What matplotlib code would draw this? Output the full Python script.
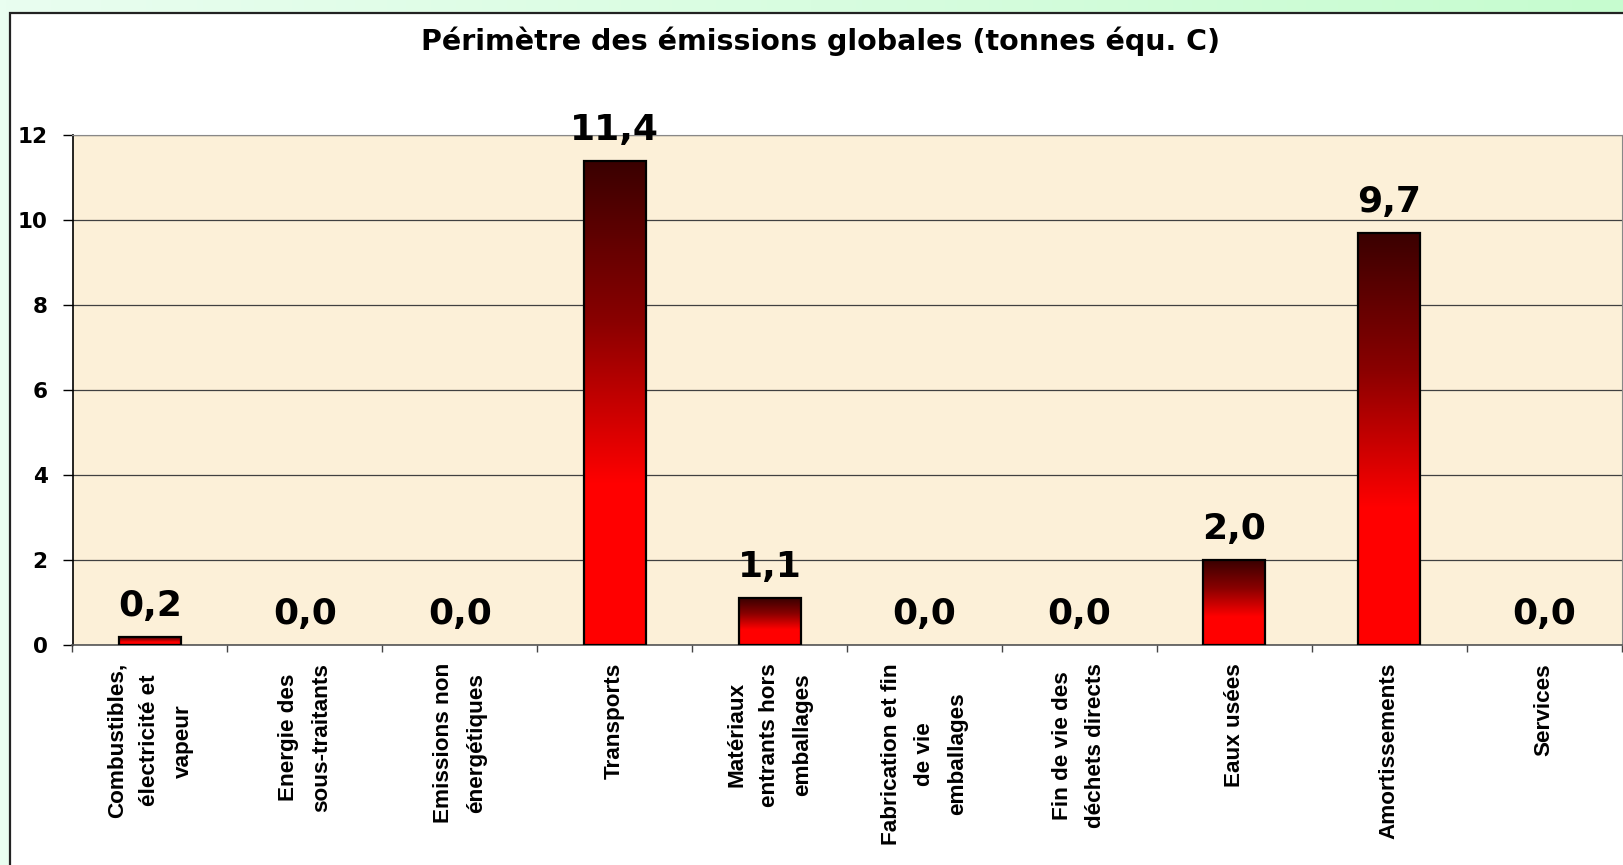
import numpy as np
import matplotlib
matplotlib.use("Agg")
import matplotlib.pyplot as plt
import matplotlib.patches as patches
from matplotlib.colors import LinearSegmentedColormap

# data
categories = [
    "Combustibles,\nélectricité et\nvapeur",
    "Energie des\nsous-traitants",
    "Emissions non\nénergétiques",
    "Transports",
    "Matériaux\nentrants hors\nemballages",
    "Fabrication et fin\nde vie\nemballages",
    "Fin de vie des\ndéchets directs",
    "Eaux usées",
    "Amortissements",
    "Services",
]
values = [0.2, 0.0, 0.0, 11.4, 1.1, 0.0, 0.0, 2.0, 9.7, 0.0]
yticks = [0, 2, 4, 6, 8, 10, 12]
title = "Périmètre des émissions globales (tonnes équ. C)"

W, H = 1623, 865
fig = plt.figure(figsize=(W / 100, H / 100), dpi=100)

# green background with soft horizontal gradient
bg = fig.add_axes([0, 0, 1, 1], zorder=-10)
green = LinearSegmentedColormap.from_list("g", ["#e9fef0", "#d8fde0", "#c6fccf"])
bg.imshow(np.linspace(0, 1, 256)[None, :], cmap=green, aspect="auto", extent=[0, 1, 0, 1])
bg.set_xlim(0, 1)
bg.set_ylim(0, 1)
bg.axis("off")

# white chart panel (runs off the right and bottom edges)
panel = patches.Rectangle((10 / W, -0.1), 1.2, 1 - 13 / H + 0.1, transform=fig.transFigure,
                          facecolor="white", edgecolor="#222222", linewidth=1.6, zorder=-5)
fig.patches.append(panel)

left, right, top, bottom = 72.5, 1621.5, 135, 645
ax = fig.add_axes([left / W, 1 - bottom / H, (right - left) / W, (bottom - top) / H])
ax.set_facecolor("#fcf0d8")

x = np.arange(len(values))
bars = ax.bar(x, values, width=0.40, facecolor="none", edgecolor="black", linewidth=1.6, zorder=3)

# vertical gradient in each bar: dark maroon on top to bright red below
redmap = LinearSegmentedColormap.from_list("r", ["#3a0000", "#8a0000", "#ff0000", "#ff0000"])
grad = np.linspace(0, 1, 256)[:, None]
for b in bars:
    h = b.get_height()
    if h <= 0:
        b.set_linewidth(0)
        continue
    im = ax.imshow(grad, cmap=redmap, aspect="auto", zorder=2,
                   extent=[b.get_x(), b.get_x() + b.get_width(), 0, h], origin="upper")
    im.set_clip_path(b)

for b, v in zip(bars, values):
    ax.annotate(f"{v:.1f}".replace(".", ","), (b.get_x() + b.get_width() / 2, b.get_height()),
                xytext=(0, 15), textcoords="offset points", ha="center", va="baseline",
                fontsize=26, fontweight="bold", family="DejaVu Sans", clip_on=False, zorder=4)

ax.set_xlim(-0.5, len(values) - 0.5)
ax.set_ylim(0, 12)
ax.set_yticks(yticks)
ax.set_yticklabels([str(t) for t in yticks], fontsize=15.5, fontweight="bold", family="DejaVu Sans")
ax.tick_params(axis="y", length=7, width=1, pad=11, color="black")
ax.yaxis.grid(True, color="#404040", linewidth=0.9, zorder=0.5)
ax.set_axisbelow(True)

ax.set_xticks(np.arange(len(values) + 1) - 0.5)
ax.set_xticklabels([])
ax.tick_params(axis="x", which="major", length=5, width=1, color="#444444")
ax.set_xticks(x, minor=True)
ax.set_xticklabels(categories, minor=True, rotation=90, ha="center", va="top",
                   multialignment="center", fontsize=16.2, fontweight="bold",
                   family="Liberation Sans", linespacing=1.75)
ax.tick_params(axis="x", which="minor", length=0, pad=13)

ax.spines["left"].set_color("black")
ax.spines["left"].set_linewidth(1.2)
ax.spines["bottom"].set_color("#555555")
ax.spines["bottom"].set_linewidth(1.2)
ax.spines["top"].set_color("#888888")
ax.spines["right"].set_color("#888888")

fig.text(821 / W, 1 - 49.5 / H, title, ha="center", va="baseline",
         fontsize=20.5, fontweight="bold", family="DejaVu Sans")

fig.savefig("out.png", dpi=100)
